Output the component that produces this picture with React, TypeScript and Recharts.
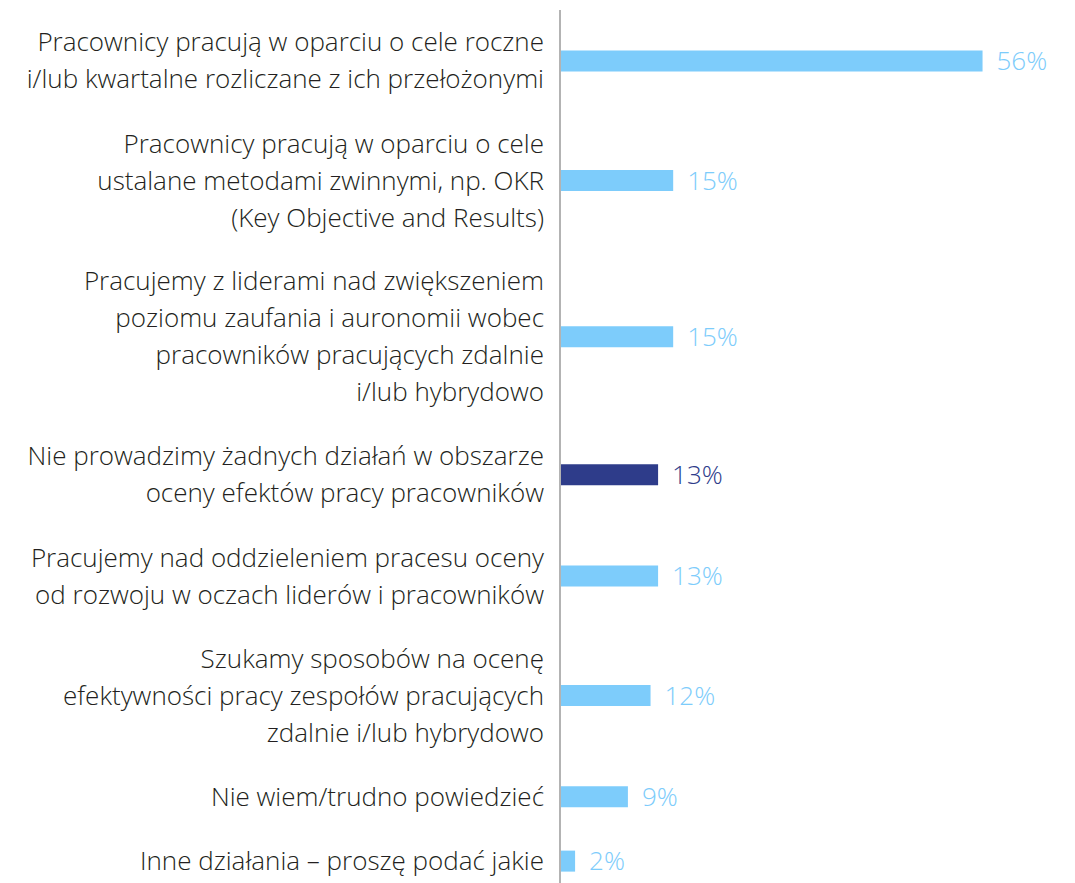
import { Bar, BarChart, Cell, LabelList, XAxis, YAxis } from 'recharts'

const categories: string[][] = [
  ['Pracownicy pracują w oparciu o cele roczne', 'i/lub kwartalne rozliczane z ich przełożonymi'],
  ['Pracownicy pracują w oparciu o cele', 'ustalane metodami zwinnymi, np. OKR', '(Key Objective and Results)'],
  [
    'Pracujemy z liderami nad zwiększeniem',
    'poziomu zaufania i auronomii wobec',
    'pracowników pracujących zdalnie',
    'i/lub hybrydowo'
  ],
  ['Nie prowadzimy żadnych działań w obszarze', 'oceny efektów pracy pracowników'],
  ['Pracujemy nad oddzieleniem pracesu oceny', 'od rozwoju w oczach liderów i pracowników'],
  ['Szukamy sposobów na ocenę', 'efektywności pracy zespołów pracujących', 'zdalnie i/lub hybrydowo'],
  ['Nie wiem/trudno powiedzieć'],
  ['Inne działania – proszę podać jakie']
]

const values = [56, 15, 15, 13, 13, 12, 9, 2]

const LIGHT = '#7dccfb'
const DARK = '#2e3c8a'
const TEXT = '#231f20'
const HIGHLIGHT_INDEX = 3

const FONT = '"Open Sans", sans-serif'
const FONT_SIZE = 26
const LINE_HEIGHT = 37
/** Gap between rows, measured in label lines. */
const ROW_GAP = 0.75

const CHART_WIDTH = 1060
const CHART_HEIGHT = 885
const Y_AXIS_WIDTH = 552

// each row takes as much room as its label needs, like the original layout
let cursor = 0
const rows = categories.map((lines, index) => {
  const span = lines.length + ROW_GAP
  const pos = cursor + span / 2
  cursor += span
  return { lines, pos, value: values[index], label: `${values[index]}%` }
})
const totalSpan = cursor

function LabelTick(props: any) {
  const { x, y, payload } = props
  const row = rows.find(r => Math.abs(r.pos - payload.value) < 1e-6)
  if (!row) return null
  const n = row.lines.length
  return (
    <text
      x={x}
      y={y}
      textAnchor='end'
      fill={TEXT}
      fontFamily={FONT}
      fontSize={FONT_SIZE}
      fontWeight={300}
    >
      {row.lines.map((line, i) => (
        <tspan
          key={i}
          x={x}
          y={y + (i - (n - 1) / 2) * LINE_HEIGHT}
          dy='0.36em'
        >
          {line}
        </tspan>
      ))}
    </text>
  )
}

function ValueLabel(props: any) {
  const { x, y, width, height, value, index } = props
  return (
    <text
      x={x + width + 14}
      y={y + height / 2}
      dy='0.36em'
      fill={index === HIGHLIGHT_INDEX ? DARK : LIGHT}
      fontFamily={FONT}
      fontSize={FONT_SIZE}
      fontWeight={300}
    >
      {value}
    </text>
  )
}

export default function App() {
  return (
    <div style={{ width: CHART_WIDTH, height: CHART_HEIGHT }}>
      <style>{'html,body{overflow:hidden}'}</style>
      <BarChart
        data={rows}
        height={CHART_HEIGHT}
        layout='vertical'
        margin={{ top: 2, right: 10, bottom: 0, left: 0 }}
        width={CHART_WIDTH}
      >
        <XAxis
          domain={[0, 66]}
          hide
          type='number'
        />
        <YAxis
          axisLine={{ stroke: '#b3b3b3', strokeWidth: 2 }}
          dataKey='pos'
          domain={[0, totalSpan]}
          interval={0}
          tick={<LabelTick />}
          tickLine={false}
          tickMargin={16}
          tickSize={0}
          ticks={rows.map(r => r.pos)}
          type='number'
          width={Y_AXIS_WIDTH}
        />
        <Bar
          barSize={21}
          dataKey='value'
          isAnimationActive={false}
        >
          {rows.map((row, index) => (
            <Cell
              key={`cell-${index}`}
              fill={index === HIGHLIGHT_INDEX ? DARK : LIGHT}
            />
          ))}
          <LabelList
            content={<ValueLabel />}
            dataKey='label'
          />
        </Bar>
      </BarChart>
    </div>
  )
}
